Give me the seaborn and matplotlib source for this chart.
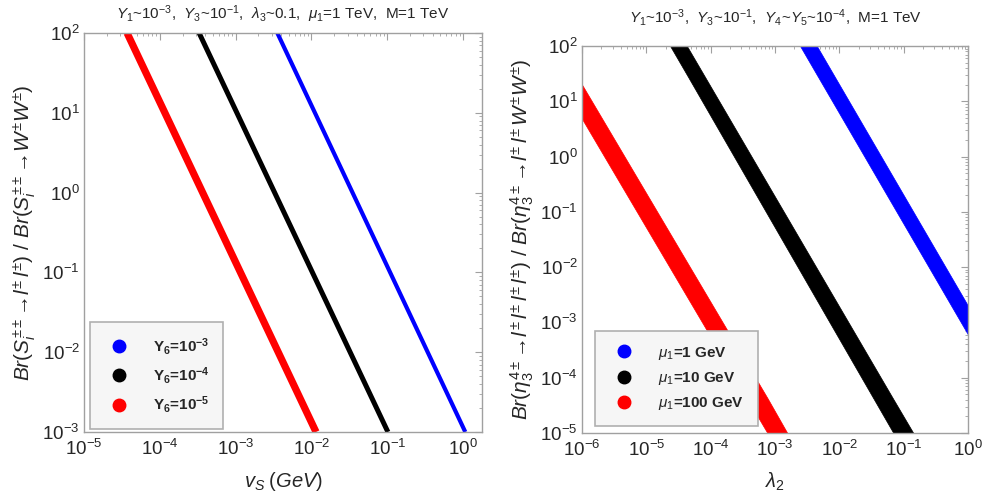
import matplotlib
matplotlib.use("Agg")
import matplotlib.pyplot as plt
from matplotlib.lines import Line2D
import seaborn as sns
import pandas as pd

# ---- data ----
# left panel: straight lines, ratio from 1e2 down to 1e-3
br_ends = [1e2, 1e-3]
vs_blue = [3.55e-3, 1.07]
vs_black = [3.3e-4, 0.102]
vs_red = [3.7e-5, 1.15e-2]

left_labels = [r"$\mathbf{Y_6}$=10$^{\mathbf{-3}}$", r"$\mathbf{Y_6}$=10$^{\mathbf{-4}}$",
               r"$\mathbf{Y_6}$=10$^{\mathbf{-5}}$"]
right_labels = [r"$\mu_1$=1 GeV", r"$\mu_1$=10 GeV", r"$\mu_1$=100 GeV"]
colors = ["#0000ff", "#000000", "#ff0000"]

# right panel: bands (lambda_2, upper edge, lower edge)
lam_blue = [2.45e-3, 4.47e-3, 1.0]
blue_hi = [100, 100, 2.0e-3]
blue_lo = [100, 30, 6.0e-4]

lam_black = [2.34e-5, 4.27e-5, 0.069, 0.141]
black_hi = [100, 100, 4.1e-5, 1e-5]
black_lo = [100, 30, 1e-5, 1e-5]

lam_red = [1e-6, 7.6e-4, 1.55e-3]
red_hi = [20, 4.3e-5, 1e-5]
red_lo = [4.8, 1e-5, 1e-5]

sns.set_style("white")
plt.rcParams['font.family'] = ['Liberation Sans', 'DejaVu Sans']
plt.rcParams['mathtext.fontset'] = 'custom'
plt.rcParams['mathtext.rm'] = 'Liberation Sans'
plt.rcParams['mathtext.it'] = 'Liberation Sans:italic'
plt.rcParams['mathtext.bf'] = 'Liberation Sans:bold'

frame_col = '#a0a0a0'

fig = plt.figure(figsize=(9.87, 4.99), dpi=100)
ax1 = fig.add_axes([0.0851, 0.1343, 0.4033, 0.7996])
ax2 = fig.add_axes([0.5897, 0.1323, 0.3911, 0.7755])

df_left = pd.DataFrame({
    'vs': vs_blue + vs_black + vs_red,
    'br': br_ends * 3,
    'series': ['b'] * 2 + ['k'] * 2 + ['r'] * 2,
})
widths = {'b': 3.0, 'k': 3.6, 'r': 5.2}
for s, c in zip(['b', 'k', 'r'], colors):
    sub = df_left[df_left['series'] == s]
    sns.lineplot(data=sub, x='vs', y='br', color=c, linewidth=widths[s], ax=ax1,
                 solid_capstyle='butt')

ax2.fill_between(lam_blue, blue_lo, blue_hi, color=colors[0], lw=0.5, edgecolor=colors[0])
ax2.fill_between(lam_black, black_lo, black_hi, color=colors[1], lw=0.5, edgecolor=colors[1])
ax2.fill_between(lam_red, red_lo, red_hi, color=colors[2], lw=0.5, edgecolor=colors[2])

for ax in (ax1, ax2):
    ax.set_xscale('log')
    ax.set_yscale('log')
    for sp in ax.spines.values():
        sp.set_color(frame_col)
        sp.set_linewidth(1.0)
    ax.tick_params(which='both', direction='in', top=True, right=True,
                   color=frame_col, labelsize=13.5, pad=3)
    ax.tick_params(axis='x', which='both', pad=5)
    ax.tick_params(which='major', length=5, width=0.8)
    ax.tick_params(which='minor', length=2.5, width=0.6)
    ax.tick_params(which='both', labelright=False, labeltop=False)
    ax.xaxis.set_minor_locator(matplotlib.ticker.LogLocator(subs='auto', numticks=20))
    ax.yaxis.set_minor_locator(matplotlib.ticker.LogLocator(subs='auto', numticks=20))
    ax.xaxis.set_minor_formatter(matplotlib.ticker.NullFormatter())
    ax.yaxis.set_minor_formatter(matplotlib.ticker.NullFormatter())

ax1.set_xlim(1e-5, 1.78)
ax1.set_ylim(1e-3, 1e2)
ax2.set_xlim(1e-6, 1)
ax2.set_ylim(1e-5, 1e2)

ax1.set_xlabel(r"$v_S\;(GeV)$", fontsize=14.5, labelpad=8)
ax1.set_ylabel(r"$Br(S_i^{\pm\pm}\!\rightarrow\! l^{\pm}\,l^{\pm})\ /\ Br(S_i^{\pm\pm}\!\rightarrow\! W^{\pm}W^{\pm})$",
               fontsize=15, labelpad=3)
ax2.set_xlabel(r"$\lambda_2$", fontsize=14.5, labelpad=8)
ax2.set_ylabel(r"$Br(\eta_3^{4\pm}\!\rightarrow\! l^{\pm}\,l^{\pm}\,l^{\pm}\,l^{\pm})\ /\ Br(\eta_3^{4\pm}\!\rightarrow\! l^{\pm}\,l^{\pm}\,W^{\pm}W^{\pm})$",
               fontsize=15, labelpad=3)

ax1.set_title(r"$Y_1$~10$^{-3}$,  $Y_3$~10$^{-1}$,  $\lambda_3$~0.1,  $\mu_1$=1 TeV,  M=1 TeV",
              fontsize=11, pad=10)
ax2.set_title(r"$Y_1$~10$^{-3}$,  $Y_3$~10$^{-1}$,  $Y_4$~$Y_5$~10$^{-4}$,  M=1 TeV",
              fontsize=11, pad=17)

def make_legend(ax, labels, anchor):
    handles = [Line2D([], [], marker='o', linestyle='', color=c, markersize=9) for c in colors]
    leg = ax.legend(handles, labels, loc='upper left', bbox_to_anchor=anchor,
                    frameon=True, fancybox=False, facecolor='#f6f6f6', edgecolor='#b0b0b0',
                    framealpha=1, prop={'weight': 'bold', 'size': 11}, handletextpad=1.2,
                    borderpad=0.9, labelspacing=0.55, borderaxespad=0)
    leg.get_frame().set_linewidth(1.2)

make_legend(ax1, left_labels, (0.015, 0.276))
make_legend(ax2, right_labels, (0.034, 0.264))

fig.savefig('out.png', dpi=100)
